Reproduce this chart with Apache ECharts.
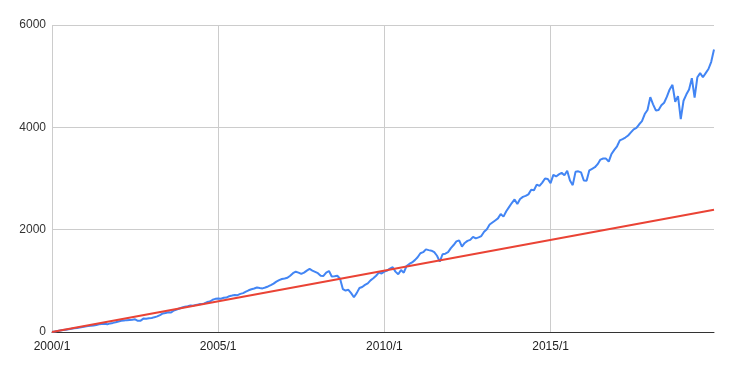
<!DOCTYPE html>
<html>
<head>
<meta charset="utf-8">
<script src="https://cdn.jsdelivr.net/npm/echarts@6/dist/echarts.min.js"></script>
<style>html,body{margin:0;padding:0;background:#fff}#c{width:733px;height:371px}</style>
</head>
<body>
<div id="c"></div>
<script>
var startYear = 2000, endYear = 2019;
var tickLabels = ['2000/1', '2005/1', '2010/1', '2015/1'];
var yTicks = [0, 2000, 4000, 6000];
// Portfolio value, monthly 2000/1 .. 2019/12
var portfolio = [
  0, 9, 19, 28, 37, 46, 55, 62, 72, 80, 88, 99,
  108, 116, 120, 128, 138, 150, 155, 160, 150, 168, 178, 190,
  205, 218, 225, 232, 236, 240, 247, 218, 222, 262, 258, 270,
  274, 290, 305, 330, 362, 372, 385, 380, 420, 440, 460, 480,
  495, 505, 520, 515, 530, 540, 545, 560, 585, 595, 630, 648,
  655, 650, 668, 672, 700, 712, 725, 720, 745, 760, 790, 815,
  835, 850, 870, 860, 852, 870, 890, 915, 945, 985, 1015, 1035,
  1045, 1060, 1100, 1150, 1178, 1160, 1135, 1160, 1200, 1232, 1200, 1175,
  1150, 1100, 1095, 1160, 1192, 1085, 1090, 1100, 1040, 840, 810, 825,
  760, 680, 760, 860, 880, 920, 950, 1010, 1050, 1100, 1160, 1145,
  1180, 1200, 1240, 1265, 1180, 1128, 1210, 1160, 1290, 1330, 1360, 1405,
  1460, 1540, 1560, 1615, 1600, 1590, 1560, 1490, 1375, 1520, 1530, 1560,
  1640, 1700, 1770, 1790, 1670, 1740, 1780, 1800, 1860, 1830, 1850, 1875,
  1960, 2010, 2100, 2140, 2180, 2220, 2305, 2255, 2360, 2440, 2520, 2590,
  2500, 2600, 2640, 2660, 2690, 2780, 2770, 2880, 2855, 2920, 3000, 2990,
  2910, 3070, 3040, 3080, 3110, 3065, 3150, 2960, 2870, 3130, 3140, 3120,
  2960, 2955, 3160, 3190, 3220, 3280, 3370, 3390, 3390, 3330, 3480, 3560,
  3630, 3745, 3770, 3800, 3840, 3900, 3960, 3990, 4060, 4120, 4260, 4340,
  4590, 4450, 4330, 4340, 4430, 4480, 4600, 4740, 4830, 4500, 4610, 4160,
  4520, 4640, 4740, 4960, 4580, 4980, 5060, 4980, 5060, 5140, 5280, 5520
];
// Invested amount: straight line from first to last month
var investedStart = 0, investedEnd = 2390;

var categories = [];
for (var y = startYear; y <= endYear; y++) for (var m = 1; m <= 12; m++) categories.push(y + '/' + m);
var invested = categories.map(function (c, i) {
  return i === 0 ? investedStart : (i === categories.length - 1 ? investedEnd : null);
});

var chart = echarts.init(document.getElementById('c'));
var isTick = function (i) { return tickLabels.indexOf(categories[i]) >= 0; };
chart.setOption({
  animation: false,
  backgroundColor: '#fff',
  grid: { left: 52, right: 19, top: 25, bottom: 39, containLabel: false },
  xAxis: {
    type: 'category', data: categories, boundaryGap: false,
    axisLine: { show: true, lineStyle: { color: '#333', width: 1 } },
    axisTick: { show: false },
    axisLabel: { interval: function (i) { return isTick(i); }, color: '#222', fontSize: 12, fontFamily: 'Liberation Sans, Arial, sans-serif', margin: 9 },
    splitLine: { show: true, interval: function (i) { return isTick(i); }, lineStyle: { color: '#ccc', width: 1 } }
  },
  yAxis: {
    type: 'value', min: yTicks[0], max: yTicks[yTicks.length - 1], interval: 2000,
    axisLine: { show: false }, axisTick: { show: false },
    axisLabel: { color: '#333', fontSize: 12, fontFamily: 'Liberation Sans, Arial, sans-serif', margin: 6, formatter: function (v) { return String(v); } },
    splitLine: { lineStyle: { color: '#ccc', width: 1 } }
  },
  series: [
    { type: 'line', data: portfolio, showSymbol: false, symbol: 'none', lineStyle: { color: '#4285F4', width: 2 }, itemStyle: { color: '#4285F4' } },
    { type: 'line', data: invested, connectNulls: true, showSymbol: false, symbol: 'none', lineStyle: { color: '#EA4335', width: 2 }, itemStyle: { color: '#EA4335' } }
  ]
});
</script>
</body>
</html>
